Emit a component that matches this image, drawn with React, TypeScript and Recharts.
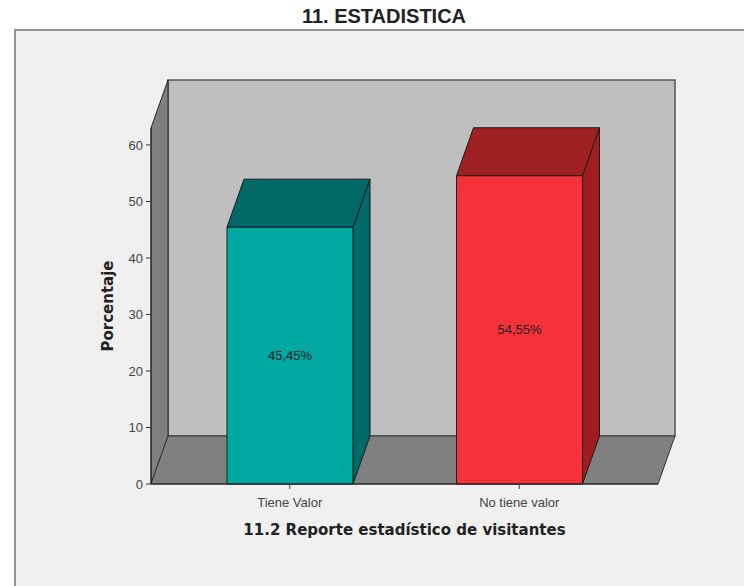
import React from 'react';
import { BarChart, Bar, XAxis, YAxis, LabelList, usePlotArea } from 'recharts';

const categories = ['Tiene Valor', 'No tiene valor'];
const percentages = [45.45, 54.55];
const yTicks = [0, 10, 20, 30, 40, 50, 60];

const frontColors = ['#00a8a2', '#f53139'];
const topColors = ['#006866', '#9e2020'];
const sideColors = ['#006a68', '#a01c20'];

const chartData = categories.map((name, i) => ({ name, value: percentages[i] }));

// how far the 3D box is pushed back
const DX = 17;
const DY = 48;

function Walls() {
  const plot = usePlotArea();
  if (!plot) return null;
  const { x, y, width, height } = plot;
  const right = x + width;
  const bottom = y + height;
  return (
    <g>
      <polygon
        points={`${x + DX},${y - DY} ${right + DX},${y - DY} ${right + DX},${bottom - DY} ${x + DX},${bottom - DY}`}
        fill="#bfbfbf"
        stroke="#555"
        strokeWidth={1.5}
      />
      <polygon
        points={`${x},${y} ${x + DX},${y - DY} ${x + DX},${bottom - DY} ${x},${bottom}`}
        fill="#808080"
        stroke="#222"
        strokeWidth={1}
      />
      <polygon
        points={`${x},${bottom} ${x + DX},${bottom - DY} ${right + DX},${bottom - DY} ${right},${bottom}`}
        fill="#808080"
        stroke="#333"
        strokeWidth={1}
      />
    </g>
  );
}

function Box3D(props: any) {
  const { x, y, width, height, index } = props;
  const r = x + width;
  const b = y + height;
  return (
    <g stroke="#1c1c1c" strokeWidth={1} strokeLinejoin="round">
      <polygon
        points={`${r},${y} ${r + DX},${y - DY} ${r + DX},${b - DY} ${r},${b}`}
        fill={sideColors[index]}
      />
      <polygon
        points={`${x},${y} ${x + DX},${y - DY} ${r + DX},${y - DY} ${r},${y}`}
        fill={topColors[index]}
      />
      <rect x={x} y={y} width={width} height={height} fill={frontColors[index]} />
    </g>
  );
}

export default function App() {
  return (
    <div style={{ position: 'absolute', left: 0, top: 0, width: 744, height: 586, background: '#fff', overflow: 'hidden' }}>
      <div
        style={{
          position: 'absolute',
          left: 14,
          top: 29,
          width: 740,
          height: 570,
          background: '#f0f0f0',
          border: '2.5px solid #929292',
        }}
      />
      <div
        style={{
          position: 'absolute',
          left: 0,
          top: 5,
          width: 768,
          textAlign: 'center',
          fontFamily: 'Liberation Sans',
          fontWeight: 700,
          fontSize: 20,
          lineHeight: '23px',
          color: '#222',
        }}
      >
        11. ESTADISTICA
      </div>
      <div style={{ position: 'absolute', left: 0, top: 0 }}>
        <BarChart
          width={744}
          height={586}
          data={chartData}
          margin={{ top: 128, right: 86, bottom: 72, left: 101 }}
        >
          <Walls />
          <XAxis
            dataKey="name"
            height={30}
            padding={{ left: 24, right: 24 }}
            tick={{ fontSize: 13, fill: '#444', fontFamily: 'Liberation Sans' }}
            tickSize={5}
            tickMargin={9}
            tickLine={{ stroke: '#444' }}
            axisLine={{ stroke: '#222' }}
            interval={0}
            label={{
              value: '11.2 Reporte estadístico de visitantes',
              position: 'bottom',
              offset: 10,
              fontSize: 15,
              fontWeight: 700,
              fontFamily: 'DejaVu Sans',
              fill: '#222',
            }}
          />
          <YAxis
            width={50}
            domain={[0, 63]}
            ticks={yTicks}
            tick={{ fontSize: 13, fill: '#444', fontFamily: 'Liberation Sans' }}
            tickSize={5}
            tickMargin={3}
            tickLine={{ stroke: '#333' }}
            axisLine={{ stroke: '#222' }}
            label={{
              value: 'Porcentaje',
              angle: -90,
              position: 'left',
              offset: -7,
              textAnchor: 'middle',
              fontSize: 15,
              fontWeight: 700,
              fontFamily: 'DejaVu Sans',
              fill: '#222',
            }}
          />
          <Bar dataKey="value" barSize={126} shape={Box3D} isAnimationActive={false}>
            <LabelList
              dataKey="value"
              position="center"
              formatter={(v: number) => `${v.toFixed(2).replace('.', ',')}%`}
              style={{ fontSize: 13, fill: '#222', fontFamily: 'Liberation Sans' }}
            />
          </Bar>
        </BarChart>
      </div>
    </div>
  );
}
